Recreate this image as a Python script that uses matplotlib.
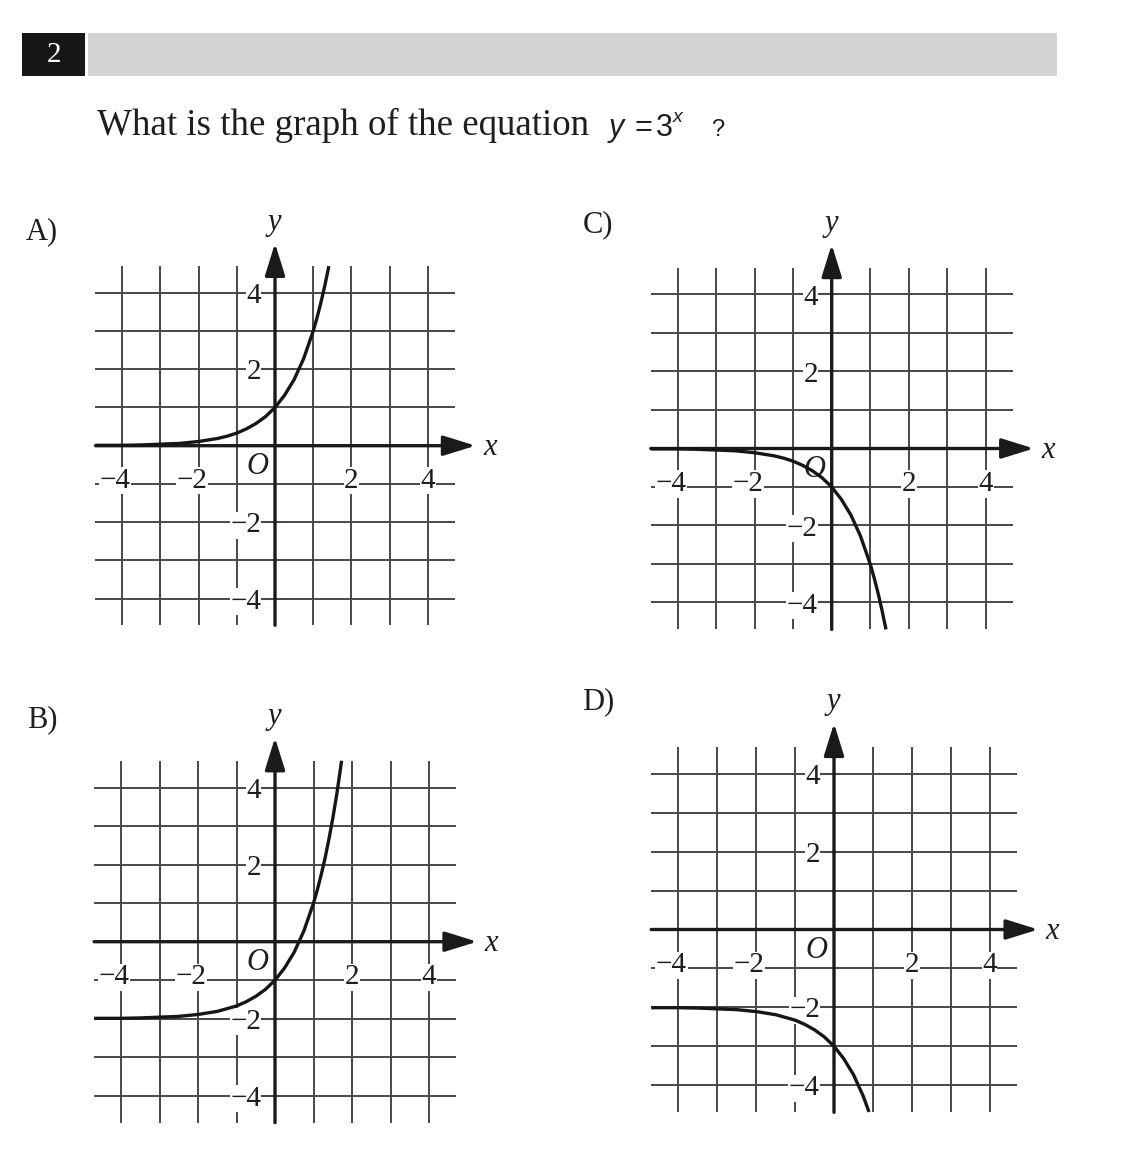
import matplotlib
matplotlib.use("Agg")
import matplotlib.pyplot as plt

W, H = 1130, 1158
SERIF = "Liberation Serif"
SANS = "Liberation Sans"

# ---- data -----------------------------------------------------------------
question_number = "2"
question_text = "What is the graph of the equation"
panel_names = ["A)", "B)", "C)", "D)"]
x_tick_values = [-4, -2, 2, 4]
y_tick_values = [4, 2, -2, -4]
grid_values = [-4, -3, -2, -1, 1, 2, 3, 4]

# Curve A (y = 3^x)
curve_a_x = [-4.7, -4.0, -3.5, -3.0, -2.5, -2.0, -1.75, -1.5, -1.25, -1.0, -0.75, -0.5,
             -0.25, 0.0, 0.25, 0.5, 0.75, 1.0, 1.1, 1.2, 1.3, 1.41]
curve_a_y = [0.01, 0.01, 0.02, 0.04, 0.06, 0.11, 0.15, 0.19, 0.25, 0.33, 0.44, 0.58,
             0.76, 1.00, 1.32, 1.73, 2.28, 3.00, 3.35, 3.74, 4.17, 4.70]
# Curve B (y = 3^x - 2)
curve_b_x = [-4.7, -4.0, -3.5, -3.0, -2.5, -2.0, -1.5, -1.0, -0.75, -0.5, -0.25, 0.0,
             0.25, 0.5, 0.75, 1.0, 1.1, 1.2, 1.3, 1.4, 1.5, 1.6, 1.73]
curve_b_y = [-1.99, -1.99, -1.98, -1.96, -1.94, -1.89, -1.81, -1.67, -1.56, -1.42, -1.24, -1.00,
             -0.68, -0.27, 0.28, 1.00, 1.35, 1.74, 2.17, 2.66, 3.20, 3.80, 4.70]
# Curve C (y = -3^x)
curve_c_x = [-4.7, -4.0, -3.5, -3.0, -2.5, -2.0, -1.75, -1.5, -1.25, -1.0, -0.75, -0.5,
             -0.25, 0.0, 0.25, 0.5, 0.75, 1.0, 1.1, 1.2, 1.3, 1.41]
curve_c_y = [-0.01, -0.01, -0.02, -0.04, -0.06, -0.11, -0.15, -0.19, -0.25, -0.33, -0.44, -0.58,
             -0.76, -1.00, -1.32, -1.73, -2.28, -3.00, -3.35, -3.74, -4.17, -4.70]
# Curve D (y = -3^x - 2)
curve_d_x = [-4.7, -4.0, -3.5, -3.0, -2.5, -2.0, -1.5, -1.0, -0.75, -0.5, -0.25, 0.0,
             0.25, 0.5, 0.75, 0.9]
curve_d_y = [-2.01, -2.01, -2.02, -2.04, -2.06, -2.11, -2.19, -2.33, -2.44, -2.58, -2.76, -3.00,
             -3.32, -3.73, -4.28, -4.69]

curves = {"A)": (curve_a_x, curve_a_y), "B)": (curve_b_x, curve_b_y),
          "C)": (curve_c_x, curve_c_y), "D)": (curve_d_x, curve_d_y)}

# ---- layout (pixels) -------------------------------------------------------
panel_origin = {"A)": (275, 445.7, 38.2), "B)": (275, 941.7, 38.5),
                "C)": (831.7, 448.5, 38.5), "D)": (834, 929.5, 38.9)}
panel_label_pos = {"A)": (42, 232), "B)": (42, 720), "C)": (598, 225), "D)": (598, 702)}

fig = plt.figure(figsize=(W / 100, H / 100), dpi=100)
fig.patch.set_facecolor("white")

# overlay axes in pixel coordinates for header / labels
ov = fig.add_axes([0, 0, 1, 1])
ov.set_xlim(0, W)
ov.set_ylim(H, 0)
ov.axis("off")

TXT_C = "#1e1e1e"
ov.add_patch(plt.Rectangle((22, 33), 63, 43, facecolor="#161616", edgecolor="none"))
ov.add_patch(plt.Rectangle((88, 33), 969, 43, facecolor="#d3d3d3", edgecolor="none"))
ov.text(53.5, 55, question_number, color="white", fontsize=21, family=SERIF,
        ha="center", va="center")

ov.text(97, 135, question_text, fontsize=26.6, family=SERIF, ha="left",
        va="baseline", color=TXT_C)
ov.text(609, 136, "y", fontsize=22, family=SANS, style="italic", ha="left",
        va="baseline", color=TXT_C)
ov.text(635, 136, "=", fontsize=22, family=SANS, ha="left", va="baseline", color=TXT_C)
ov.text(656, 136, "3", fontsize=22, family=SANS, ha="left", va="baseline", color=TXT_C)
ov.text(673, 122, "x", fontsize=14, family=SANS, style="italic", ha="left",
        va="baseline", color=TXT_C)
ov.text(711, 136, "?", fontsize=17, family=SANS, ha="left", va="baseline", color=TXT_C)

for name in panel_names:
    lx, ly = panel_label_pos[name]
    ov.text(lx, ly, name, fontsize=22, family=SERIF, ha="center", va="center",
            color=TXT_C)

X0, X1, Y0, Y1 = -5.5, 6.5, -5.5, 6.8
GRID_EXT = 4.7
GRID_C = "#484848"

for name in panel_names:
    ox, oy, u = panel_origin[name]
    left = ox + X0 * u
    right = ox + X1 * u
    top = oy - Y1 * u
    bottom = oy - Y0 * u
    ax = fig.add_axes([left / W, 1 - bottom / H, (right - left) / W, (bottom - top) / H])
    ax.set_xlim(X0, X1)
    ax.set_ylim(Y0, Y1)
    ax.axis("off")
    ax.patch.set_alpha(0)

    for g in grid_values:
        ax.plot([g, g], [-GRID_EXT, GRID_EXT], color=GRID_C, lw=1.4, zorder=1,
                solid_capstyle="butt")
        ax.plot([-GRID_EXT, GRID_EXT], [g, g], color=GRID_C, lw=1.4, zorder=1,
                solid_capstyle="butt")

    # tick labels with white background
    for t in x_tick_values:
        txt = f"\u2212{abs(t)}" if t < 0 else f"{t}"
        ax.text(t + (0.22 if t < 0 else 0.0), -0.92, txt, fontsize=21, family=SERIF,
                ha="right" if t < 0 else "center", va="center", zorder=3, color=TXT_C,
                bbox=dict(facecolor="white", edgecolor="none", pad=0.5))
    for t in y_tick_values:
        txt = f"\u2212{abs(t)}" if t < 0 else f"{t}"
        ax.text(-0.36, t - 0.08, txt, fontsize=21, family=SERIF, ha="right",
                va="center", zorder=3, color=TXT_C,
                bbox=dict(facecolor="white", edgecolor="none", pad=0.5))
        ax.plot([-0.33, 0.12], [t, t], color=GRID_C, lw=1.5, zorder=4)
    ax.text(-0.45, -0.55, "O", fontsize=22, family=SERIF, style="italic",
            ha="center", va="center", zorder=3, color=TXT_C,
            bbox=dict(facecolor="white", edgecolor="none", pad=0.3))

    # axes with arrows
    ax.annotate("", xy=(5.25, 0), xytext=(-GRID_EXT, 0),
                arrowprops=dict(arrowstyle="-|>,head_length=0.9,head_width=0.28",
                                lw=2.4, color="#1a1a1a", shrinkA=0, shrinkB=0,
                                mutation_scale=22), zorder=4)
    ax.annotate("", xy=(0, 5.3), xytext=(0, -GRID_EXT),
                arrowprops=dict(arrowstyle="-|>,head_length=0.9,head_width=0.28",
                                lw=2.4, color="#1a1a1a", shrinkA=0, shrinkB=0,
                                mutation_scale=22), zorder=4)
    ax.text(5.62, -0.05, "x", fontsize=22, family=SERIF, style="italic",
            ha="center", va="center", color=TXT_C)
    ax.text(-0.02, 5.85, "y", fontsize=22, family=SERIF, style="italic",
            ha="center", va="center", color=TXT_C)

    cx, cy = curves[name]
    ax.plot(cx, cy, color="#161616", lw=2.4, zorder=5, solid_capstyle="butt")

fig.savefig("out.png", dpi=100, facecolor="white")
